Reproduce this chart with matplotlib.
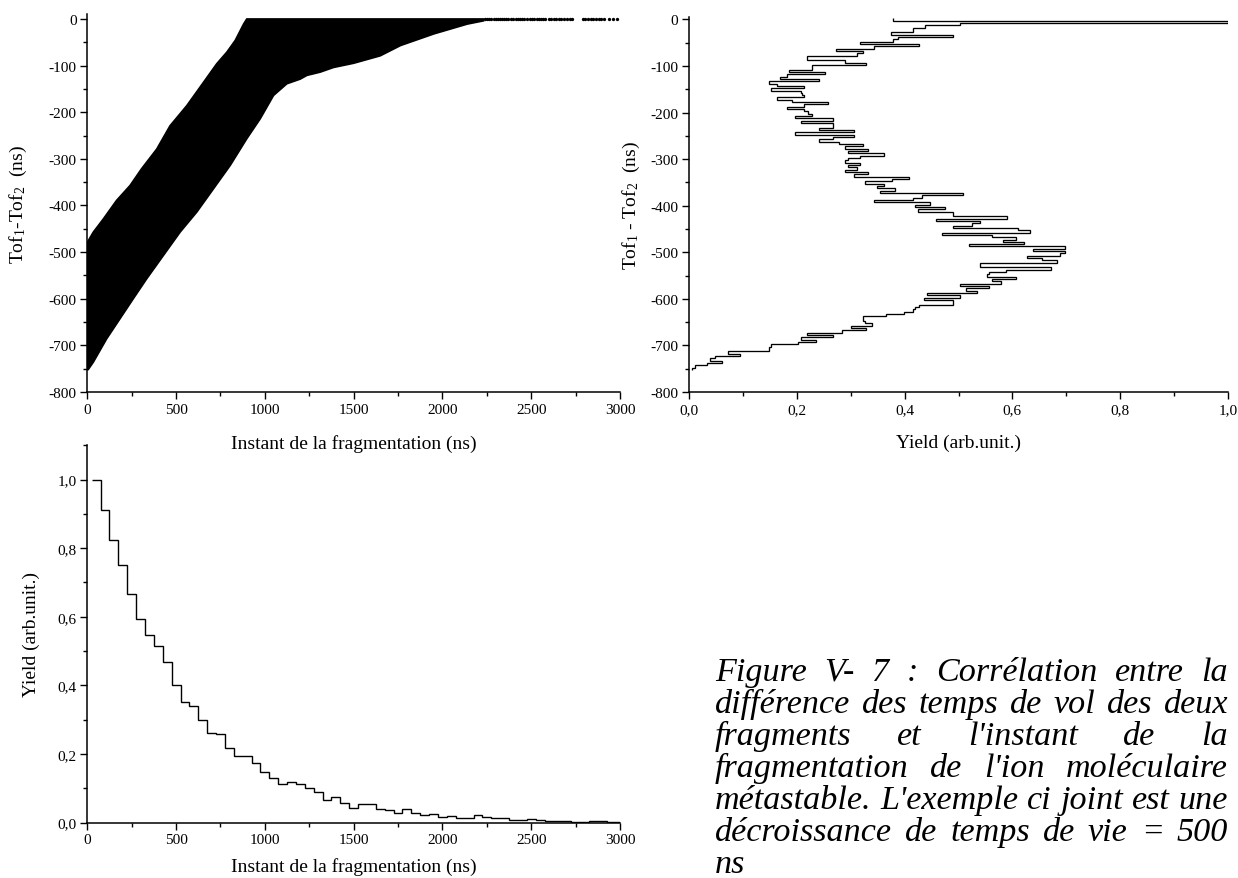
import numpy as np
import matplotlib
matplotlib.use("Agg")
import matplotlib.pyplot as plt
from matplotlib.ticker import MultipleLocator, FuncFormatter

plt.rcParams["font.family"] = ["Liberation Serif", "DejaVu Serif"]
plt.rcParams["mathtext.fontset"] = "custom"
plt.rcParams["mathtext.rm"] = "Liberation Serif"
plt.rcParams["mathtext.it"] = "Liberation Serif:italic"
plt.rcParams["axes.unicode_minus"] = False

# --- scatter cloud (Tof1-Tof2 vs fragmentation instant), outline
cloud_left_x = [0, 0, 34, 90, 165, 241, 306, 391, 466, 560, 654, 729, 786, 833, 880, 898, 2232]
cloud_left_y = [-752, -479, -457, -429, -389, -357, -321, -279, -229, -186, -136, -96, -71, -46, -11, 0, 0]
cloud_right_x = [2232, 2140, 1952, 1764, 1650, 1500, 1387, 1312, 1237, 1199, 1124, 1049, 974,
                 898, 805, 711, 617, 523, 429, 335, 259, 184, 109, 34, 5]
cloud_right_y = [-4, -11, -32, -57, -79, -95, -104, -114, -121, -129, -139, -164, -214,
                 -257, -314, -364, -414, -457, -507, -557, -600, -643, -686, -736, -752]
tail_x = [2240, 2252, 2264, 2276, 2288, 2300, 2312, 2324, 2336, 2348, 2360, 2372,
          2388, 2400, 2412, 2424, 2436, 2448, 2460, 2476,
          2494, 2506, 2518, 2530, 2542, 2554, 2566, 2578, 2598,
          2614, 2626, 2640, 2654, 2668, 2684, 2700, 2716, 2732,
          2790, 2805, 2820, 2835, 2850, 2865, 2880, 2895, 2910,
          2940, 2960, 2985]

# --- Tof1-Tof2 distribution, 5 ns bins from 0 down to -750
tof_yield = [
    0.378, 1.0, 0.503, 0.4375, 0.416, 0.416, 0.375, 0.49, 0.388, 0.378,
    0.317, 0.426, 0.344, 0.273, 0.323, 0.3125, 0.219, 0.219, 0.289, 0.328,
    0.229, 0.229, 0.186, 0.252, 0.181, 0.169, 0.241, 0.148, 0.164, 0.213,
    0.1525, 0.207, 0.209, 0.214, 0.164, 0.191, 0.257, 0.213, 0.181, 0.213,
    0.22, 0.229, 0.197, 0.2675, 0.2075, 0.2675, 0.2675, 0.241, 0.306, 0.197,
    0.306, 0.2675, 0.241, 0.278, 0.323, 0.289, 0.333, 0.295, 0.361, 0.317,
    0.295, 0.289, 0.317, 0.295, 0.3125, 0.289, 0.333, 0.306, 0.409, 0.377,
    0.327, 0.361, 0.349, 0.3825, 0.355, 0.508, 0.432, 0.416, 0.344, 0.448,
    0.42, 0.475, 0.425, 0.49, 0.49, 0.59, 0.458, 0.54, 0.525, 0.49,
    0.61, 0.633, 0.47, 0.5625, 0.606, 0.583, 0.622, 0.519, 0.698, 0.6375,
    0.698, 0.6875, 0.627, 0.655, 0.6825, 0.54, 0.54, 0.672, 0.589, 0.556,
    0.552, 0.606, 0.5625, 0.578, 0.502, 0.5575, 0.513, 0.535, 0.442, 0.503,
    0.436, 0.49, 0.49, 0.427, 0.42, 0.416, 0.399, 0.366, 0.322, 0.322,
    0.327, 0.339, 0.301, 0.328, 0.284, 0.219, 0.2675, 0.2075, 0.235, 0.203,
    0.153, 0.148, 0.148, 0.072, 0.094, 0.049, 0.039, 0.061, 0.033, 0.011,
    0.006,
]
tof_bin = 5.0

# --- decay histogram, 50 ns bins starting at 25 ns
decay_yield = [
    1.0, 0.911, 0.825, 0.750, 0.666, 0.592, 0.548, 0.516, 0.467, 0.401,
    0.352, 0.341, 0.300, 0.262, 0.257, 0.216, 0.195, 0.195, 0.173, 0.147,
    0.129, 0.113, 0.119, 0.112, 0.102, 0.088, 0.066, 0.075, 0.058, 0.042,
    0.055, 0.053, 0.039, 0.036, 0.029, 0.039, 0.029, 0.022, 0.026, 0.016,
    0.019, 0.012, 0.014, 0.021, 0.015, 0.014, 0.012, 0.006, 0.008, 0.009,
    0.007, 0.004, 0.004, 0.004, 0.002, 0.002, 0.004, 0.004, 0.002, 0.001,
]
decay_start, decay_bin = 25, 50

caption = [
    "Figure V- 7 : Corrélation entre la",
    "différence des temps de vol des deux",
    "fragments et l'instant de la",
    "fragmentation de l'ion moléculaire",
    "métastable. L'exemple ci joint est une",
    "décroissance de temps de vie = 500",
    "ns",
]

W, H = 1238, 879
fig = plt.figure(figsize=(W / 100, H / 100), dpi=100)


def style(ax):
    ax.patch.set_visible(False)
    for s in ("top", "right"):
        ax.spines[s].set_visible(False)
    for s in ("left", "bottom"):
        ax.spines[s].set_linewidth(1.1)
    ax.tick_params(which="major", direction="out", length=4.7, width=1.0, labelsize=11, pad=3)
    ax.tick_params(which="minor", direction="out", length=3.0, width=1.0)


comma = FuncFormatter(lambda v, _: f"{v:.1f}".replace(".", ","))
intfmt = FuncFormatter(lambda v, _: f"{v:.0f}")

# top left: scatter cloud
ax1 = fig.add_axes([87.3 / W, 1 - 393 / H, 532.7 / W, 377.7 / H])
style(ax1)
poly_x = cloud_left_x + cloud_right_x
poly_y = cloud_left_y + cloud_right_y
ax1.fill(poly_x, poly_y, color="black", lw=1.2)
ax1.plot(tail_x, [0] * len(tail_x), "o", color="black", ms=2.4, mew=0)
ax1.set_xlim(0, 3000)
ax1.set_ylim(-800, 10)
ax1.xaxis.set_major_locator(MultipleLocator(500))
ax1.xaxis.set_minor_locator(MultipleLocator(250))
ax1.yaxis.set_major_locator(MultipleLocator(100))
ax1.yaxis.set_minor_locator(MultipleLocator(50))
ax1.yaxis.set_major_formatter(intfmt)
ax1.set_xlabel("Instant de la fragmentation (ns)", fontsize=14, labelpad=13)
ax1.set_ylabel("Tof$_1$-Tof$_2$  (ns)", fontsize=14)
ax1.yaxis.set_label_coords(-0.11, 0.5)

# top right: rotated step histogram
ax2 = fig.add_axes([689 / W, 1 - 393 / H, 539 / W, 375.3 / H])
style(ax2)
centers = -tof_bin * np.arange(len(tof_yield))
edges = np.append(centers + tof_bin / 2, centers[-1] - tof_bin / 2)
ax2.stairs(np.array(tof_yield)[::-1], edges[::-1], orientation="horizontal",
           baseline=None, color="black", lw=0.95)
ax2.set_xlim(0, 1.0)
ax2.set_ylim(-800, 6)
ax2.xaxis.set_major_locator(MultipleLocator(0.2))
ax2.xaxis.set_minor_locator(MultipleLocator(0.1))
ax2.xaxis.set_major_formatter(comma)
ax2.yaxis.set_major_locator(MultipleLocator(100))
ax2.yaxis.set_minor_locator(MultipleLocator(50))
ax2.yaxis.set_major_formatter(intfmt)
ax2.set_xlabel("Yield (arb.unit.)", fontsize=14, labelpad=13)
ax2.set_ylabel("Tof$_1$ - Tof$_2$  (ns)", fontsize=14)
ax2.yaxis.set_label_coords(-0.087, 0.5)

# bottom left: decay histogram
ax3 = fig.add_axes([87.3 / W, 1 - 823.5 / H, 532.7 / W, 377.3 / H])
style(ax3)
dedges = decay_start + decay_bin * np.arange(len(decay_yield) + 1)
ax3.stairs(decay_yield, dedges, baseline=None, color="black", lw=1.0)
ax3.set_xlim(0, 3000)
ax3.set_ylim(0, 1.1)
ax3.xaxis.set_major_locator(MultipleLocator(500))
ax3.xaxis.set_minor_locator(MultipleLocator(250))
ax3.yaxis.set_major_locator(MultipleLocator(0.2))
ax3.yaxis.set_minor_locator(MultipleLocator(0.1))
ax3.yaxis.set_major_formatter(comma)
ax3.set_xlabel("Instant de la fragmentation (ns)", fontsize=14, labelpad=8)
ax3.set_ylabel("Yield (arb.unit.)", fontsize=14)
ax3.yaxis.set_label_coords(-0.089, 0.5)

# caption, justified between two edges
renderer = fig.canvas.get_renderer()


def width_of(s, size):
    t = fig.text(0, 0, s, fontsize=size, style="italic")
    w = t.get_window_extent(renderer).width
    t.remove()
    return w


left, right = 715, 1228
size = 20 * (right - left) / width_of(caption[4], 20)
for i, line in enumerate(caption):
    base = 681 + 32 * i
    words = line.split()
    if len(words) == 1:
        fig.text(left / W, 1 - base / H, line, fontsize=size, style="italic", va="baseline")
        continue
    ws = [width_of(w, size) for w in words]
    gap = (right - left - sum(ws)) / (len(words) - 1)
    x = left
    for w, wd in zip(words, ws):
        fig.text(x / W, 1 - base / H, w, fontsize=size, style="italic", va="baseline")
        x += wd + gap

fig.savefig("out.png", dpi=100)
